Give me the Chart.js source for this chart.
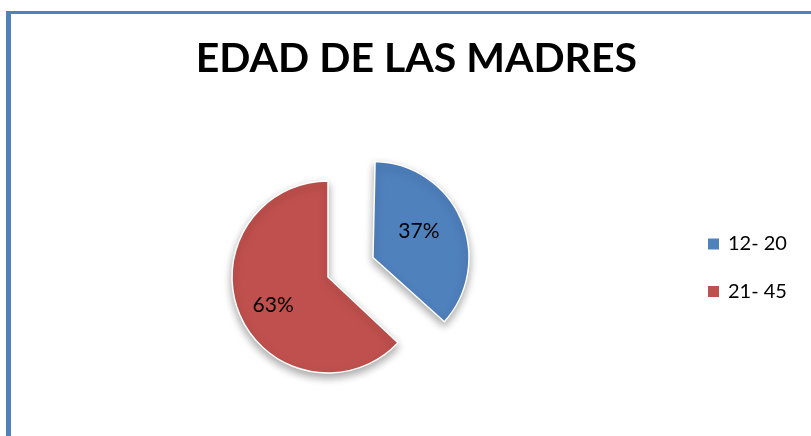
<!DOCTYPE html>
<html><head><meta charset="utf-8">
<script src="https://cdn.jsdelivr.net/npm/chart.js@4.4.0/dist/chart.umd.min.js"></script>
<style>
html,body{margin:0;padding:0;background:#fff;width:811px;height:436px;overflow:hidden;}
#frame{position:absolute;left:6px;top:11px;width:900px;height:500px;border-left:5px solid #4f81bd;border-top:3px solid #4f81bd;}
#wrap{position:absolute;left:0;top:0;width:811px;height:436px;}
</style></head><body>
<div id="frame"></div>
<div id="wrap"><canvas id="c" width="811" height="436"></canvas></div>
<script>
const titleText = 'EDAD DE LAS MADRES';
const categories = ['12- 20', '21- 45'];
const percentages = [37, 63];

const fixOffsetRadius = {
  id: 'fixOffsetRadius',
  afterDatasetsUpdate(chart) {
    const meta = chart.getDatasetMeta(0);
    meta.data.forEach(arc => {
      const o = (arc.options.offset || 0) / 4;
      const fix = 1 - Math.sin(Math.min(Math.PI, arc.circumference || 0));
      arc.outerRadius = arc.outerRadius - o * fix;
    });
  }
};

const pieDecor = {
  id: 'pieDecor',
  beforeDatasetsDraw(chart) {
    const ctx = chart.ctx;
    ctx.save();
    ctx.shadowColor = 'rgba(0,0,0,0.35)';
    ctx.shadowBlur = 8;
    ctx.shadowOffsetX = 0;
    ctx.shadowOffsetY = 4;
  },
  afterDatasetsDraw(chart) {
    const ctx = chart.ctx;
    ctx.restore();
    const meta = chart.getDatasetMeta(0);
    const vals = chart.data.datasets[0].data;
    const total = vals.reduce((a, b) => a + b, 0);
    ctx.save();
    ctx.font = '21px Lato, "Liberation Sans", sans-serif';
    ctx.fillStyle = '#000';
    ctx.textAlign = 'center';
    ctx.textBaseline = 'middle';
    meta.data.forEach((arc, i) => {
      const mid = (arc.startAngle + arc.endAngle) / 2 - 0.06;
      const t = (arc.options.offset || 0) / 4;
      const d = t + arc.outerRadius * 0.64;
      const x = arc.x + Math.cos(mid) * d;
      const y = arc.y + Math.sin(mid) * d;
      ctx.fillText(Math.round(vals[i] / total * 100) + '%', x, y);
    });
    ctx.restore();
  },
  afterDraw(chart) {
    const ctx = chart.ctx;
    const ca = chart.chartArea;
    const cy = (ca.top + ca.bottom) / 2;
    const ds = chart.data.datasets[0];
    ctx.save();
    ctx.font = '20px Lato, "Liberation Sans", sans-serif';
    ctx.textBaseline = 'middle';
    ctx.textAlign = 'left';
    chart.data.labels.forEach((lab, i) => {
      const y = cy - 33 + i * 47.5;
      ctx.fillStyle = ds.backgroundColor[i];
      ctx.fillRect(ca.right + 71, y - 5.5, 11, 11);
      ctx.fillStyle = '#000';
      ctx.fillText(lab, ca.right + 91, y);
    });
    ctx.restore();
  }
};

new Chart(document.getElementById('c'), {
  type: 'pie',
  data: {
    labels: categories,
    datasets: [{
      data: percentages,
      backgroundColor: ['#4f81bd', '#c0504d'],
      borderColor: '#ffffff',
      borderWidth: 1.5,
      offset: [196, 0]
    }]
  },
  options: {
    responsive: false,
    animation: false,
    events: [],
    radius: 96,
    layout: { padding: { left: 19, right: 174, top: 0, bottom: 0 } },
    plugins: {
      legend: { display: false },
      tooltip: { enabled: false },
      title: {
        display: true,
        text: titleText,
        align: 'end',
        color: '#000',
        font: { family: 'Lato, "Liberation Sans", sans-serif', size: 41, weight: 'bold' },
        padding: { top: 34.5, bottom: 34.3 }
      }
    }
  },
  plugins: [fixOffsetRadius, pieDecor]
});
</script>
</body></html>
